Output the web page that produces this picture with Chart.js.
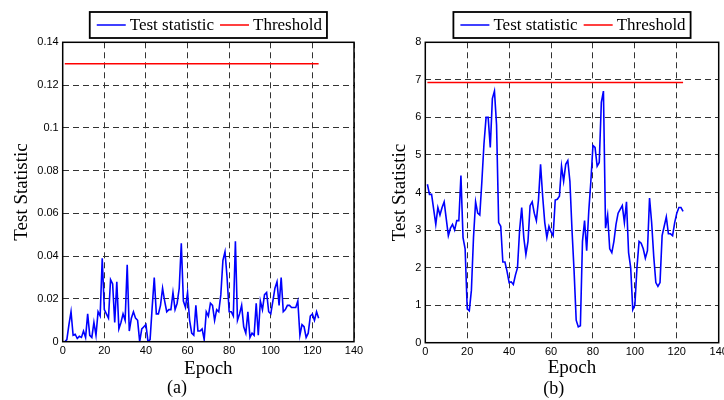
<!DOCTYPE html>
<html>
<head>
<meta charset="utf-8">
<script src="https://cdn.jsdelivr.net/npm/chart.js@4.4.1/dist/chart.umd.min.js"></script>
<style>
  html, body { margin: 0; padding: 0; background: #fff; overflow: hidden; }
  body { width: 724px; height: 400px; position: relative; }
  .panel { position: absolute; top: 0; height: 400px; }
  #panelA { left: 0; width: 380px; }
  #panelB { left: 362px; width: 400px; }
</style>
</head>
<body>
<div class="panel" id="panelA"><canvas id="chartA" width="380" height="400"></canvas></div>
<div class="panel" id="panelB"><canvas id="chartB" width="400" height="400"></canvas></div>
<script>
// epochs shared by both panels
var epochs = [
  1, 2, 3, 4, 5, 6, 7, 8, 9, 10, 11, 12, 13, 14, 15, 16, 17, 18, 19, 20,
  21, 22, 23, 24, 25, 26, 27, 28, 29, 30, 31, 32, 33, 34, 35, 36, 37, 38, 39, 40,
  41, 42, 43, 44, 45, 46, 47, 48, 49, 50, 51, 52, 53, 54, 55, 56, 57, 58, 59, 60,
  61, 62, 63, 64, 65, 66, 67, 68, 69, 70, 71, 72, 73, 74, 75, 76, 77, 78, 79, 80,
  81, 82, 83, 84, 85, 86, 87, 88, 89, 90, 91, 92, 93, 94, 95, 96, 97, 98, 99, 100,
  101, 102, 103, 104, 105, 106, 107, 108, 109, 110, 111, 112, 113, 114, 115, 116, 117, 118, 119, 120,
  121, 122, 123
];

// panel (a)
var statA = [
  0, 0.001, 0.008, 0.014, 0.003, 0.0035, 0.0015, 0.0025, 0.002, 0.005,
  0.002, 0.013, 0.003, 0.002, 0.009, 0.003, 0.014, 0.012, 0.039, 0.015,
  0.013, 0.011, 0.029, 0.027, 0.009, 0.028, 0.006, 0.009, 0.013, 0.010,
  0.036, 0.005, 0.011, 0.014, 0.011, 0.010, 0.000, 0.006, 0.007, 0.008,
  0.000, 0.001, 0.016, 0.030, 0.013, 0.013, 0.017, 0.025, 0.019, 0.014,
  0.015, 0.015, 0.023, 0.015, 0.018, 0.025, 0.046, 0.019, 0.016, 0.023,
  0.010, 0.004, 0.003, 0.017, 0.005, 0.005, 0.006, 0.001, 0.014, 0.012,
  0.018, 0.017, 0.010, 0.015, 0.014, 0.022, 0.038, 0.042, 0.030, 0.014,
  0.014, 0.012, 0.047, 0.010, 0.013, 0.017, 0.007, 0.004, 0.014, 0.002,
  0.004, 0.003, 0.018, 0.003, 0.019, 0.015, 0.022, 0.023, 0.014, 0.013,
  0.019, 0.025, 0.028, 0.017, 0.030, 0.014, 0.015, 0.017, 0.017, 0.016,
  0.016, 0.016, 0.019, 0.003, 0.008, 0.007, 0.002, 0.004, 0.012, 0.013,
  0.010, 0.014, 0.011
];
var thresholdA = 0.13;
var yLabelsA = ['0', '0.02', '0.04', '0.06', '0.08', '0.1', '0.12', '0.14'];

// panel (b)
var statB = [
  4.22, 3.95, 3.95, 3.55, 3.15, 3.6, 3.4, 3.6, 3.75, 3.3,
  2.85, 3.05, 3.15, 3.0, 3.25, 3.25, 4.45, 2.8, 2.5, 0.9,
  0.85, 1.4, 2.8, 3.75, 3.45, 3.4, 4.3, 5.3, 6.0, 6.0,
  5.2, 6.5, 6.7, 5.8, 3.2, 3.1, 2.15, 2.15, 1.9, 1.6,
  1.62, 1.55, 1.8, 2.0, 3.0, 3.6, 2.8, 2.35, 2.7, 3.65,
  3.75, 3.45, 3.25, 3.8, 4.75, 3.9, 3.2, 2.8, 3.1, 2.95,
  2.85, 3.8, 3.82, 3.9, 4.7, 4.3, 4.75, 4.85, 4.3, 3.0,
  1.9, 0.6, 0.42, 0.45, 2.7, 3.25, 2.45, 3.5, 4.3, 5.25,
  5.2, 4.7, 4.8, 6.4, 6.7, 3.05, 3.4, 2.5, 2.4, 2.7,
  3.15, 3.45, 3.55, 3.65, 3.2, 3.75, 2.4, 2.0, 0.88, 1.0,
  2.0, 2.7, 2.65, 2.5, 2.25, 2.45, 3.85, 3.2, 2.3, 1.6,
  1.5, 1.6, 2.85, 3.1, 3.35, 2.9, 2.9, 2.85, 3.2, 3.45,
  3.6, 3.6, 3.5
];
var thresholdB = 6.93;
var yLabelsB = ['0', '1', '2', '3', '4', '5', '6', '7', '8'];

var xLabels = ['0', '20', '40', '60', '80', '100', '120', '140'];

var serif = '"Liberation Serif", "Times New Roman", serif';
var sans = '"Liberation Sans", Arial, sans-serif';

function toPoints(xs, ys) {
  return xs.map(function (x, i) { return { x: x, y: ys[i] }; });
}

// solid box around the axes plus the boxed legend above them
var boxPlugin = {
  id: 'boxAndLegend',
  afterDraw: function (chart) {
    var ctx = chart.ctx, a = chart.chartArea;
    ctx.save();
    ctx.strokeStyle = '#000';
    ctx.lineWidth = 1.5;
    ctx.strokeRect(a.left, a.top, a.right - a.left, a.bottom - a.top);

    ctx.font = '17px ' + serif;
    var items = chart.data.datasets;
    var sample = 29, gap = 4, padL = 7, padR = 5, spacing = 6;
    var total = padL + padR;
    items.forEach(function (d, i) {
      total += sample + gap + ctx.measureText(d.label).width + (i ? spacing : 0);
    });
    var x = (a.left + a.right) / 2 - total / 2, y = 12, h = 26;
    ctx.fillStyle = '#fff';
    ctx.fillRect(x, y, total, h);
    ctx.lineWidth = 1.8;
    ctx.strokeRect(x, y, total, h);

    var cx = x + padL, cy = y + h / 2;
    ctx.textBaseline = 'middle';
    items.forEach(function (d, i) {
      if (i) cx += spacing;
      ctx.strokeStyle = d.borderColor;
      ctx.lineWidth = 1.5;
      ctx.beginPath();
      ctx.moveTo(cx, cy);
      ctx.lineTo(cx + sample, cy);
      ctx.stroke();
      cx += sample + gap;
      ctx.fillStyle = '#000';
      ctx.fillText(d.label, cx, cy + 1);
      cx += ctx.measureText(d.label).width;
    });
    ctx.restore();
  }
};

function makePanel(id, stat, threshold, yMax, yStep, yLabels, caption, pad, yWidth, xHeight, captionPad, yTitlePad) {
  return new Chart(document.getElementById(id), {
    type: 'line',
    data: {
      datasets: [{
        label: 'Test statistic',
        data: toPoints(epochs, stat),
        borderColor: '#0000ff',
        borderWidth: 1.6,
        pointRadius: 0,
        tension: 0
      }, {
        label: 'Threshold',
        data: toPoints([epochs[0], epochs[epochs.length - 1]], [threshold, threshold]),
        borderColor: '#ff0000',
        borderWidth: 1.5,
        pointRadius: 0
      }]
    },
    options: {
      responsive: false,
      animation: false,
      devicePixelRatio: 1,
      layout: { padding: pad },
      plugins: {
        legend: { display: false },
        tooltip: { enabled: false },
        title: {
          display: true,
          position: 'bottom',
          text: caption,
          color: '#000',
          font: { family: serif, size: 18, weight: 'normal' },
          padding: captionPad
        }
      },
      scales: {
        x: {
          type: 'linear',
          min: 0,
          max: 140,
          afterFit: function (s) { s.height = xHeight; },
          ticks: {
            stepSize: 20,
            padding: 3,
            color: '#000',
            maxRotation: 0,
            autoSkip: false,
            font: { family: sans, size: 11 },
            callback: function (v, i) { return xLabels[i]; }
          },
          grid: { color: '#333', lineWidth: 1, drawTicks: false },
          border: { display: false, dash: [6, 4] },
          title: {
            display: true,
            text: 'Epoch',
            color: '#000',
            font: { family: serif, size: 19 },
            padding: { top: 0, bottom: -3 }
          }
        },
        y: {
          min: 0,
          max: yMax,
          afterFit: function (s) { s.width = yWidth; },
          ticks: {
            stepSize: yStep,
            padding: 4,
            color: '#000',
            font: { family: sans, size: 11 },
            callback: function (v, i) { return yLabels[i]; }
          },
          grid: { color: '#333', lineWidth: 1, drawTicks: false },
          border: { display: false, dash: [6, 4] },
          title: {
            display: true,
            text: 'Test Statistic',
            color: '#000',
            font: { family: serif, size: 19 },
            padding: { top: yTitlePad, bottom: 0 }
          }
        }
      }
    },
    plugins: [boxPlugin]
  });
}

makePanel('chartA', statA, thresholdA, 0.14, 0.02, yLabelsA, '(a)',
  { left: 0, top: 42.3, right: 26, bottom: 0 }, 62.7, 35.7, { top: 0, bottom: 1 }, 11);
makePanel('chartB', statB, thresholdB, 8, 1, yLabelsB, '(b)',
  { left: 27, top: 42.3, right: 43.3, bottom: 0 }, 36.3, 33.7, { top: 2, bottom: 0 }, 0);
</script>
</body>
</html>
